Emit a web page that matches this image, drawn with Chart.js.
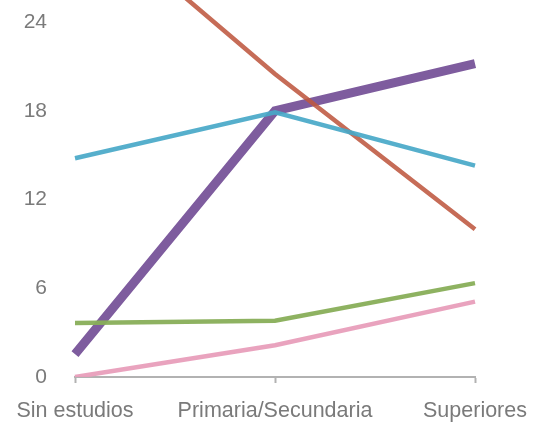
<!DOCTYPE html>
<html>
<head>
<meta charset="utf-8">
<script src="https://cdn.jsdelivr.net/npm/chart.js@4"></script>
<style>
  html, body { margin: 0; padding: 0; background: #ffffff; }
  #wrap { width: 541px; height: 425px; position: relative; }
</style>
</head>
<body>
<div id="wrap"><canvas id="c"></canvas></div>
<script>
// Education levels along the x axis
const categories = ['Sin estudios', 'Primaria/Secundaria', 'Superiores'];

// One value per education level for each series
const seriesRed    = [32.0, 20.5, 10.0];
const seriesBlue   = [14.8, 17.9, 14.3];
const seriesGreen  = [3.65, 3.8, 6.35];
const seriesPink   = [0.0, 2.15, 5.1];
const seriesPurple = [1.55, 18.0, 21.2];

// Labelled values on the y axis
const yTicks = [0, 6, 12, 18, 24];
const yMax = 25.5;

const labelColor = '#7a7a7a';
const axisColor = '#b2b2b2';
const fontFamily = '"Liberation Sans", Arial, Helvetica, sans-serif';

function lineSet(data, color, width) {
  return {
    data: data,
    borderColor: color,
    borderWidth: width,
    borderCapStyle: 'butt',
    borderJoinStyle: 'miter',
    pointRadius: 0,
    pointHoverRadius: 0,
    fill: false,
    tension: 0
  };
}

new Chart(document.getElementById('c'), {
  type: 'line',
  data: {
    labels: categories,
    datasets: [
      lineSet(seriesBlue,   'rgba(72, 168, 200, 0.92)', 4.5),
      lineSet(seriesRed,    'rgba(190, 88, 64, 0.88)', 4.5),
      lineSet(seriesGreen,  'rgba(136, 174, 88, 0.95)', 4.5),
      lineSet(seriesPink,   'rgba(232, 158, 186, 0.95)', 4.5),
      lineSet(seriesPurple, 'rgba(126, 92, 158, 1)', 9)
    ]
  },
  options: {
    responsive: true,
    maintainAspectRatio: false,
    animation: false,
    layout: { padding: { left: 22, right: 66, top: 0, bottom: 2 } },
    plugins: {
      legend: { display: false },
      tooltip: { enabled: false }
    },
    scales: {
      x: {
        offset: false,
        border: { display: true, color: axisColor, width: 2 },
        grid: {
          display: true,
          drawOnChartArea: false,
          drawTicks: true,
          tickLength: 6,
          tickWidth: 2,
          tickColor: axisColor
        },
        ticks: {
          color: labelColor,
          font: { family: fontFamily, size: 21.5 },
          padding: 15,
          maxRotation: 0,
          autoSkip: false
        },
        // edge labels may hang past the plot; the layout padding leaves room
        afterFit: (axis) => {
          axis.height = 46;
          axis.paddingLeft = 0;
          axis.paddingRight = 0;
        }
      },
      y: {
        min: 0,
        max: yMax,
        border: { display: false },
        grid: { display: false, drawTicks: false },
        afterBuildTicks: (axis) => {
          axis.ticks = yTicks.map(v => ({ value: v }));
        },
        ticks: {
          color: labelColor,
          font: { family: fontFamily, size: 21 },
          padding: 28
        },
        afterFit: (axis) => {
          axis.width = 53;
          axis.paddingTop = 0;
          axis.paddingBottom = 0;
        }
      }
    }
  }
});
</script>
</body>
</html>
